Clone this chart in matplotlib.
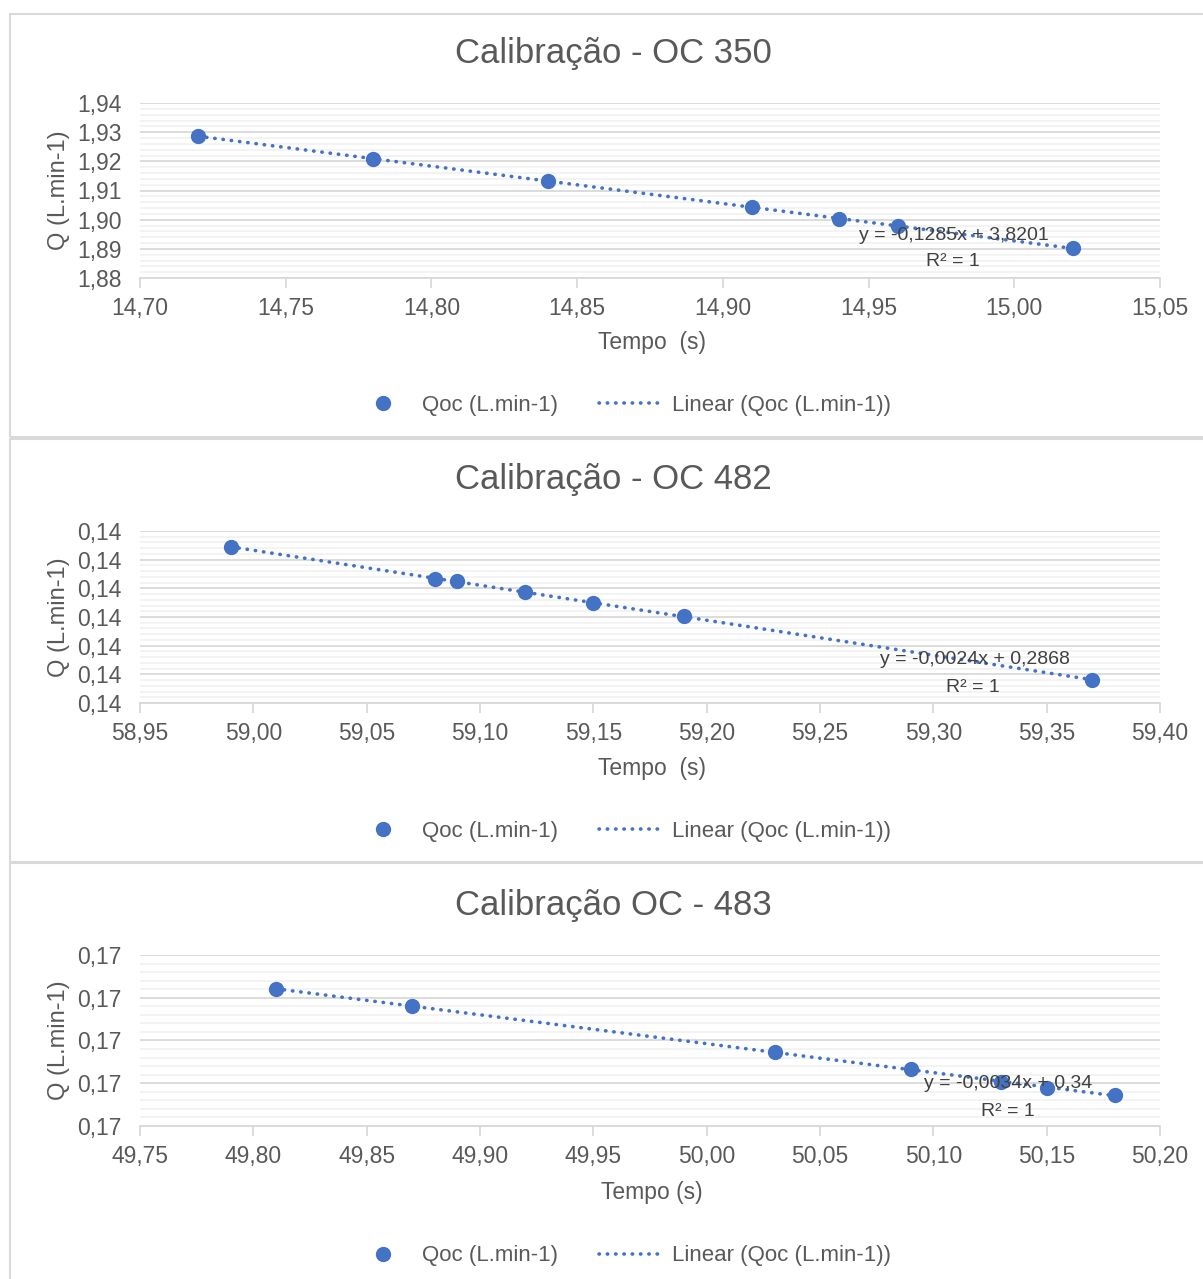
import numpy as np
import matplotlib
matplotlib.use("Agg")
import matplotlib.pyplot as plt
from matplotlib.lines import Line2D
from matplotlib.patches import Rectangle

plt.rcParams['font.family'] = ['Liberation Sans', 'DejaVu Sans']

# dados
t_350 = [14.72, 14.78, 14.84, 14.91, 14.94, 14.96, 15.02]
q_350 = [1.9287, 1.9209, 1.9132, 1.9042, 1.9003, 1.8977, 1.8904]

t_482 = [58.99, 59.08, 59.09, 59.12, 59.15, 59.19, 59.37]
q_482 = [0.144788, 0.144565, 0.144551, 0.144474, 0.144398, 0.144307, 0.143860]

t_483 = [49.81, 49.87, 50.03, 50.09, 50.13, 50.15, 50.18]
q_483 = [0.170602, 0.170404, 0.169865, 0.169667, 0.169515, 0.169444, 0.169363]

titulos = ['Calibração - OC 350', 'Calibração - OC 482', 'Calibração OC - 483']
equacoes = ['y = -0,1285x + 3,8201', 'y = -0,0024x + 0,2868', 'y = -0,0034x + 0,34']
xlabels = ['Tempo  (s)', 'Tempo  (s)', 'Tempo (s)']

W, H = 1203, 1279
cor = '#4472C4'
cinza = '#595959'

fig = plt.figure(figsize=(W / 100, H / 100), dpi=100)

def fx(x):
    return x / W

def fy(y):
    return 1 - y / H

def virgula(v, pos):
    return ('%.2f' % v).replace('.', ',')

# caixas de cada grafico
caixas = [(14, 437), (439, 862), (863, 1290)]
for (y0, y1) in caixas:
    fig.patches.append(Rectangle((fx(10), fy(y1)), fx(1210) - fx(10), fy(y0) - fy(y1),
                                 transform=fig.transFigure, fill=False,
                                 edgecolor='#D9D9D9', lw=1.5, zorder=0))

paineis = [
    dict(t=t_350, q=q_350, top=103, bot=278, xlim=(14.70, 15.05), xstep=0.05,
         ylim=(1.88, 1.94), ny=6, off=0, eq=(954, 235), r2=(953, 262)),
    dict(t=t_482, q=q_482, top=531, bot=703, xlim=(58.95, 59.40), xstep=0.05,
         ylim=(0.1437, 0.1449), ny=6, off=426, eq=(975, 659), r2=(973, 687)),
    dict(t=t_483, q=q_483, top=955, bot=1126, xlim=(49.75, 50.20), xstep=0.05,
         ylim=(0.169, 0.171), ny=4, off=851, eq=(1008, 1083), r2=(1008, 1111)),
]

for i, p in enumerate(paineis):
    ax = fig.add_axes([fx(140), fy(p['bot']), fx(1160) - fx(140), fy(p['top']) - fy(p['bot'])])
    ax.set_xlim(p['xlim'])
    ax.set_ylim(p['ylim'])

    nx = int(round((p['xlim'][1] - p['xlim'][0]) / p['xstep']))
    ax.set_xticks(np.linspace(p['xlim'][0], p['xlim'][1], nx + 1))
    ax.set_yticks(np.linspace(p['ylim'][0], p['ylim'][1], p['ny'] + 1))
    ax.set_yticks(np.linspace(p['ylim'][0], p['ylim'][1], p['ny'] * 5 + 1), minor=True)
    ax.xaxis.set_major_formatter(plt.FuncFormatter(virgula))
    ax.yaxis.set_major_formatter(plt.FuncFormatter(virgula))

    ax.grid(True, which='major', axis='y', color='#D9D9D9', lw=1.3, zorder=0)
    ax.grid(True, which='minor', axis='y', color='#F2F2F2', lw=1.3, zorder=0)
    ax.set_axisbelow(True)
    for s in ['top', 'right', 'left']:
        ax.spines[s].set_visible(False)
    ax.spines['bottom'].set_color('#D9D9D9')
    ax.spines['bottom'].set_linewidth(1.3)
    ax.tick_params(axis='x', direction='out', length=7, width=1.3, color='#D9D9D9',
                   labelsize=16.5, labelcolor=cinza, pad=7)
    ax.tick_params(axis='y', which='both', length=0, labelsize=16.5, labelcolor=cinza, pad=13)

    # linha de tendencia
    a, b = np.polyfit(p['t'], p['q'], 1)
    xt = np.array([min(p['t']), max(p['t'])])
    ax.plot(xt, a * xt + b, color=cor, lw=2.6, linestyle=(0, (0.1, 2.2)),
            dash_capstyle='round', zorder=2)
    ax.plot(p['t'], p['q'], 'o', color=cor, markersize=10, zorder=3, clip_on=False)

    # equacao
    fig.text(fx(p['eq'][0]), fy(p['eq'][1]), equacoes[i], ha='center', va='center',
             fontsize=14, color='#404040', zorder=5)
    fig.text(fx(p['r2'][0]), fy(p['r2'][1]), 'R² = 1', ha='center', va='center',
             fontsize=14, color='#404040', zorder=5)

    off = p['off']
    fig.text(fx(613), fy(54 + off), titulos[i], ha='center', va='center',
             fontsize=25, color=cinza)
    fig.text(fx(652), fy(342 + off), xlabels[i], ha='center', va='center',
             fontsize=16.5, color=cinza)
    fig.text(fx(59), fy((p['top'] + p['bot']) / 2), 'Q (L.min-1)', ha='center', va='center',
             rotation=90, fontsize=17, color=cinza)

    h1 = Line2D([], [], marker='o', color=cor, linestyle='none', markersize=10)
    h2 = Line2D([], [], color=cor, lw=2.6, linestyle=(0, (0.1, 2.2)), dash_capstyle='round')
    fig.legend([h1, h2], ['Qoc (L.min-1)', 'Linear (Qoc (L.min-1))'], ncol=2,
               loc='center', bbox_to_anchor=(fx(620), fy(405 + off)), frameon=False,
               fontsize=16, labelcolor=cinza, handlelength=3, handletextpad=0.3,
               columnspacing=1.8)

fig.savefig('out.png', dpi=100)
